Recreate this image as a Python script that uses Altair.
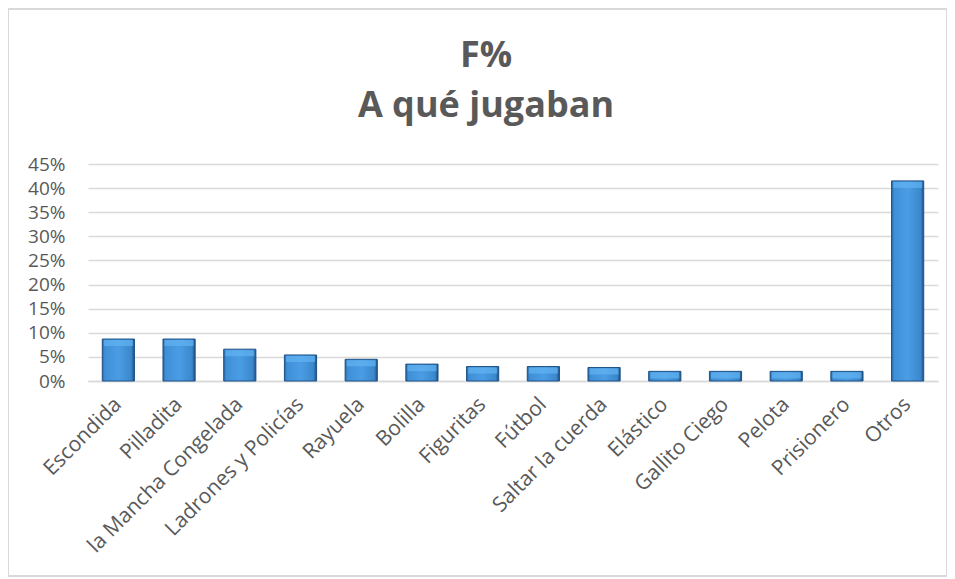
import altair as alt
import pandas as pd

juegos = ["Escondida", "Pilladita", "la Mancha Congelada", "Ladrones y Policías",
          "Rayuela", "Bolilla", "Figuritas", "Fútbol", "Saltar la cuerda",
          "Elástico", "Gallito Ciego", "Pelota", "Prisionero", "Otros"]
porcentajes = [0.087, 0.087, 0.066, 0.054, 0.045, 0.035, 0.030, 0.030, 0.028,
               0.020, 0.020, 0.020, 0.020, 0.415]
ticks_y = [0.0, 0.05, 0.10, 0.15, 0.20, 0.25, 0.30, 0.35, 0.40, 0.45]
titulo = ["F%", "A qué jugaban"]

df = pd.DataFrame({"juego": juegos, "pct": porcentajes})

W, H = 850, 217
FONT = "Open Sans"
GRAY = "#595959"

x_enc = alt.X("juego:N", sort=juegos, title=None,
              scale=alt.Scale(paddingInner=0.47, paddingOuter=0.235),
              axis=alt.Axis(labelAngle=-45, labelFontSize=21, labelColor=GRAY,
                            labelFont=FONT, ticks=False, domain=True,
                            domainColor="#d9d9d9", domainWidth=1.5,
                            labelPadding=20, labelAlign="right", labelBaseline="middle",
                            labelOverlap=False, labelLimit=300))
y_enc = alt.Y("pct:Q", title=None,
              scale=alt.Scale(domain=[0, 0.45]),
              axis=alt.Axis(format=".0%", values=ticks_y, labelOverlap=False,
                            labelFontSize=19, labelColor=GRAY, labelFont=FONT,
                            ticks=False, domain=False, gridColor="#d9d9d9",
                            gridWidth=1.5, labelPadding=23))

grad = alt.Gradient(gradient="linear", x1=0, x2=1, y1=0, y2=0,
                    stops=[alt.GradientStop(offset=0, color="#2a65a0"),
                           alt.GradientStop(offset=0.08, color="#3f8fd6"),
                           alt.GradientStop(offset=0.5, color="#4a9de5"),
                           alt.GradientStop(offset=0.9, color="#3b88cc"),
                           alt.GradientStop(offset=1, color="#1d4e82")])

bars = alt.Chart(df).mark_bar(fill=grad, stroke="#1f5185", strokeWidth=1).encode(
    x=x_enc, y=y_enc)

bevel = alt.Chart(df).mark_tick(color="#62b4f2", thickness=6, size=29, yOffset=4).encode(
    x=x_enc, y=y_enc)

border = alt.Chart(df).mark_rect(fill=None, stroke="#d9d9d9", strokeWidth=1.5, clip=False).encode(
    x=alt.value(-80), x2=alt.value(W + 9), y=alt.value(-155), y2=alt.value(H + 195))

tdf = pd.DataFrame({"t": titulo})
t1 = alt.Chart(tdf.iloc[[0]]).mark_text(font=FONT, fontSize=36, fontWeight="bold",
                                        color=GRAY, align="center", baseline="alphabetic").encode(
    text="t:N", x=alt.value(398), y=alt.value(-97))
t2 = alt.Chart(tdf.iloc[[1]]).mark_text(font=FONT, fontSize=36, fontWeight="bold",
                                        color=GRAY, align="center", baseline="alphabetic").encode(
    text="t:N", x=alt.value(398), y=alt.value(-47))

chart = alt.layer(border, bars, bevel, t1, t2).properties(
    width=W, height=H,
    autosize=alt.AutoSizeParams(type="none"),
    padding={"left": 80, "top": 156, "right": 9, "bottom": 196},
).configure_view(stroke=None)

chart.save("out.html", embed_options={"renderer": "svg", "actions": False})
